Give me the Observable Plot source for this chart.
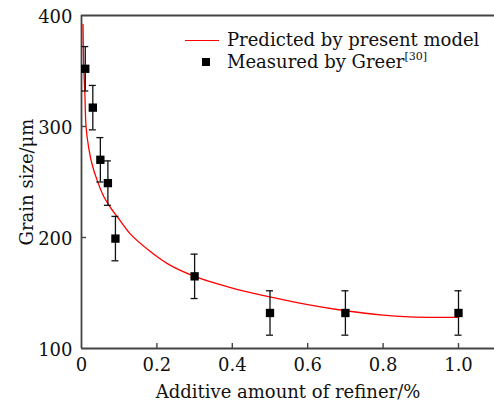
<!DOCTYPE html>
<html><head><meta charset="utf-8">
<script src="https://cdn.jsdelivr.net/npm/d3@7"></script>
<script src="https://cdn.jsdelivr.net/npm/@observablehq/plot@0.6"></script>
<style>
body{margin:0;background:#fff;}
#wrap{position:relative;width:494px;height:403px;font-family:"DejaVu Serif",serif;color:#111;}
#legend{position:absolute;left:185px;top:29px;font-size:18px;line-height:22px;}
.row{display:flex;align-items:center;height:22px;white-space:nowrap;}
.sw{width:42px;display:flex;justify-content:center;align-items:center;}
.ln{width:34px;height:0;border-top:1.3px solid #f00;margin-right:8px;}
.sq{width:8px;height:8px;background:#000;}
sup{font-size:11px;vertical-align:8px;line-height:0;}
</style></head><body><div id="wrap"><div id="legend"></div></div>
<script>
// measured data (Greer)
const measuredX = [0.01, 0.03, 0.05, 0.07, 0.09, 0.3, 0.5, 0.7, 1.0];
const measuredY = [352, 317, 270, 249, 199, 165, 132, 132, 132];
const measuredErr = [20, 20, 20, 20, 20, 20, 20, 20, 20];
// predicted model curve
const modelX = [0.004, 0.006, 0.009, 0.012, 0.019, 0.028, 0.042, 0.059, 0.077, 0.103, 0.13, 0.18, 0.23, 0.3, 0.4, 0.5, 0.6, 0.7, 0.8, 0.87, 0.95, 1.0];
const modelY = [392, 353, 329, 300, 281, 266, 251, 237, 227, 215, 203, 188, 176, 165, 154.5, 146.5, 139.5, 134, 130, 128.5, 128, 128];
const xTicks = [0, 0.2, 0.4, 0.6, 0.8, 1.0];
const yTicks = [100, 200, 300, 400];
const xLabel = "Additive amount of refiner/%";
const yLabel = "Grain size/μm";
const legendLabels = ["Predicted by present model", "Measured by Greer", "[30]"];

const measured = measuredX.map((x, i) => ({x, y: measuredY[i], lo: measuredY[i] - measuredErr[i], hi: measuredY[i] + measuredErr[i]}));
const model = modelX.map((x, i) => ({x, y: modelY[i]}));

const axisColor = "#444";
const chart = Plot.plot({
  width: 494, height: 403,
  marginTop: 15, marginLeft: 81, marginRight: 0, marginBottom: 55,
  style: {fontFamily: "'DejaVu Serif', serif", fontSize: "18px", color: "#111", background: "transparent", overflow: "visible"},
  x: {domain: [0, 1.0955]},
  y: {domain: [100, 400]},
  marks: [
    Plot.ruleY([400], {stroke: axisColor, strokeWidth: 1.8}),
    Plot.ruleY([100], {stroke: axisColor, strokeWidth: 1.8}),
    Plot.ruleX([0], {stroke: axisColor, strokeWidth: 1.8}),
    Plot.ruleX(xTicks.slice(1), {x: d => d, y1: 100, y2: 100, insetTop: -5, stroke: axisColor, strokeWidth: 1.4}),
    Plot.ruleY(yTicks.slice(1, -1), {y: d => d, x1: 0, x2: 0, insetRight: -5, stroke: axisColor, strokeWidth: 1.4}),
    Plot.axisX({ticks: xTicks, tickSize: 0, tickPadding: 9.5, tickFormat: d => d === 0 ? "0" : d.toFixed(1), label: null}),
    Plot.axisY({ticks: yTicks, tickSize: 0, tickPadding: 9, dy: 2, label: null}),
    Plot.text([xLabel], {frameAnchor: "bottom", textAnchor: "middle", lineAnchor: "bottom", dy: 49, fill: "#111"}),
    Plot.text([yLabel], {frameAnchor: "left", textAnchor: "middle", rotate: -90, lineAnchor: "bottom", dx: -49, fill: "#111"}),
    Plot.line(model, {x: "x", y: "y", stroke: "#f00", strokeWidth: 1.3, curve: "catmull-rom"}),
    Plot.ruleX(measured, {x: "x", y1: "lo", y2: "hi", stroke: "#111", strokeWidth: 1.3}),
    Plot.ruleY(measured, {y: "hi", x1: "x", x2: "x", insetLeft: -3.5, insetRight: -3.5, stroke: "#111", strokeWidth: 1.3}),
    Plot.ruleY(measured, {y: "lo", x1: "x", x2: "x", insetLeft: -3.5, insetRight: -3.5, stroke: "#111", strokeWidth: 1.3}),
    Plot.dot(measured, {x: "x", y: "y", symbol: "square", r: 4.7, fill: "#000"})
  ]
});
const wrap = document.getElementById("wrap");
wrap.insertBefore(chart, wrap.firstChild);
document.getElementById("legend").innerHTML =
  `<div class="row"><span class="sw"><span class="ln"></span></span><span>${legendLabels[0]}</span></div>` +
  `<div class="row"><span class="sw"><span class="sq"></span></span><span>${legendLabels[1]}<sup>${legendLabels[2]}</sup></span></div>`;
</script></body></html>
